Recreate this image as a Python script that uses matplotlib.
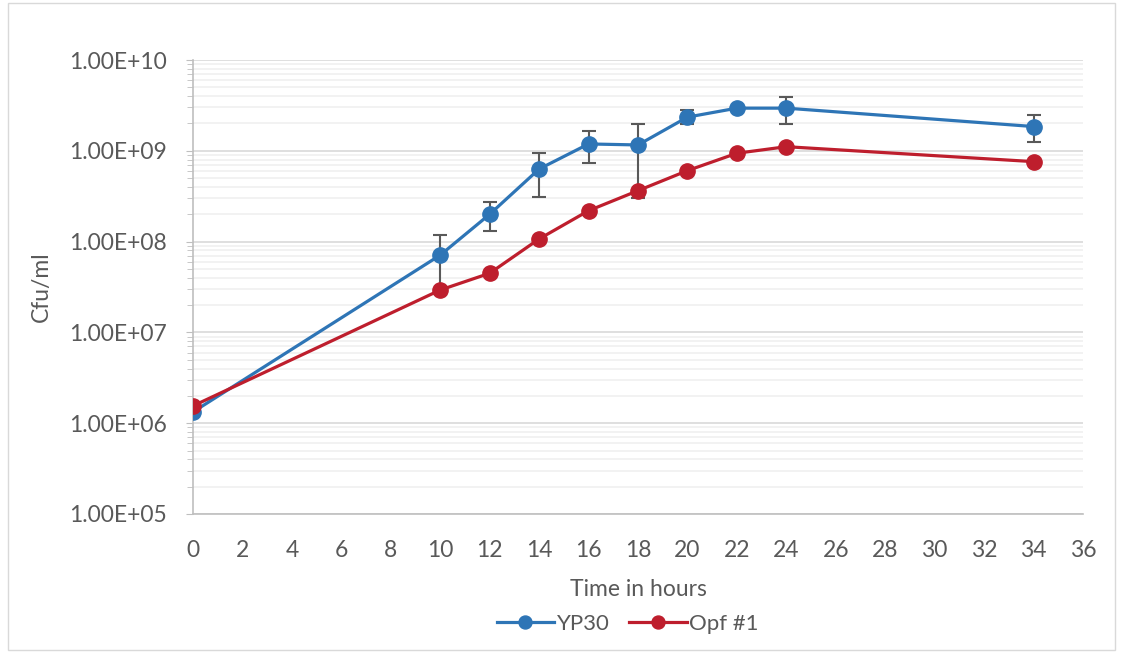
import matplotlib
matplotlib.use('Agg')
import matplotlib.pyplot as plt
import matplotlib.patches as mpatches
from matplotlib.ticker import LogLocator, FixedFormatter, NullFormatter
import numpy as np

# --- data ---
hours = [0, 10, 12, 14, 16, 18, 20, 22, 24, 34]
yp30 = [1.33e6, 7.1e7, 2.0e8, 6.3e8, 1.19e9, 1.16e9, 2.35e9, 2.95e9, 2.95e9, 1.85e9]
yp30_err_low = [0.0, 4.4e7, 7.0e7, 3.2e8, 4.6e8, 8.6e8, 3.9e8, 1.0e8, 9.8e8, 5.9e8]
yp30_err_high = [0.0, 4.7e7, 7.1e7, 3.2e8, 4.7e8, 8.1e8, 4.6e8, 1.0e8, 9.9e8, 6.3e8]
opf1 = [1.55e6, 2.93e7, 4.48e7, 1.07e8, 2.19e8, 3.64e8, 6.05e8, 9.4e8, 1.11e9, 7.6e8]

x_ticks = list(range(0, 37, 2))
y_ticks = [1e5, 1e6, 1e7, 1e8, 1e9, 1e10]
y_labels = ['1.00E+05', '1.00E+06', '1.00E+07', '1.00E+08', '1.00E+09', '1.00E+10']

BLUE = '#2E75B6'
RED = '#BE1E2D'
TXT = '#595959'

plt.rcParams['font.family'] = ['Lato', 'DejaVu Sans']

fig = plt.figure(figsize=(11.21, 6.53), dpi=100)
fig.patch.set_facecolor('white')

# chart area border
fig.patches.append(mpatches.Rectangle((0.007, 0.004), 0.988, 0.991, transform=fig.transFigure,
                                      fill=False, edgecolor='#D9D9D9', linewidth=1))

ax = fig.add_axes([0.1722, 0.2129, 0.7939, 0.6952])
ax.set_yscale('log')
ax.set_xlim(0, 36)
ax.set_ylim(1e5, 1e10)

ax.set_yticks(y_ticks)
ax.yaxis.set_major_formatter(FixedFormatter(y_labels))
ax.yaxis.set_minor_locator(LogLocator(base=10, subs=np.arange(2, 10)))
ax.yaxis.set_minor_formatter(NullFormatter())
ax.set_xticks(x_ticks)

ax.grid(which='major', axis='y', color='#D9D9D9', linewidth=1.2)
ax.grid(which='minor', axis='y', color='#F0F0F0', linewidth=1.2)
ax.set_axisbelow(True)

for s in ['top', 'right']:
    ax.spines[s].set_visible(False)
for s in ['left', 'bottom']:
    ax.spines[s].set_color('#BFBFBF')
    ax.spines[s].set_linewidth(1.2)

ax.tick_params(axis='y', which='major', length=5, color='#BFBFBF', labelsize=16.5,
               labelcolor=TXT, pad=14)
ax.tick_params(axis='y', which='minor', length=4, color='#BFBFBF')
ax.tick_params(axis='x', length=0, labelsize=16.5, labelcolor=TXT, pad=19)

ax.errorbar(hours, yp30, yerr=[yp30_err_low, yp30_err_high], fmt='none',
            ecolor='#595959', elinewidth=1.5, capsize=5, capthick=1.5, zorder=3)
ax.plot(hours, yp30, color=BLUE, linewidth=2.3, marker='o', markersize=11,
        label='YP30', zorder=4)
ax.plot(hours, opf1, color=RED, linewidth=2.3, marker='o', markersize=11,
        label='Opf #1', zorder=5)

ax.set_ylabel('Cfu/ml', fontsize=16.5, color=TXT, labelpad=12)
ax.set_xlabel('Time in hours', fontsize=16.5, color=TXT, labelpad=13)

fig.legend(loc='center', bbox_to_anchor=(0.56, 0.045), ncol=2, frameon=False,
           fontsize=16, labelcolor=TXT, handlelength=2.6, handletextpad=0.1,
           columnspacing=0.9, markerscale=0.85)

fig.savefig('out.png', dpi=100)
